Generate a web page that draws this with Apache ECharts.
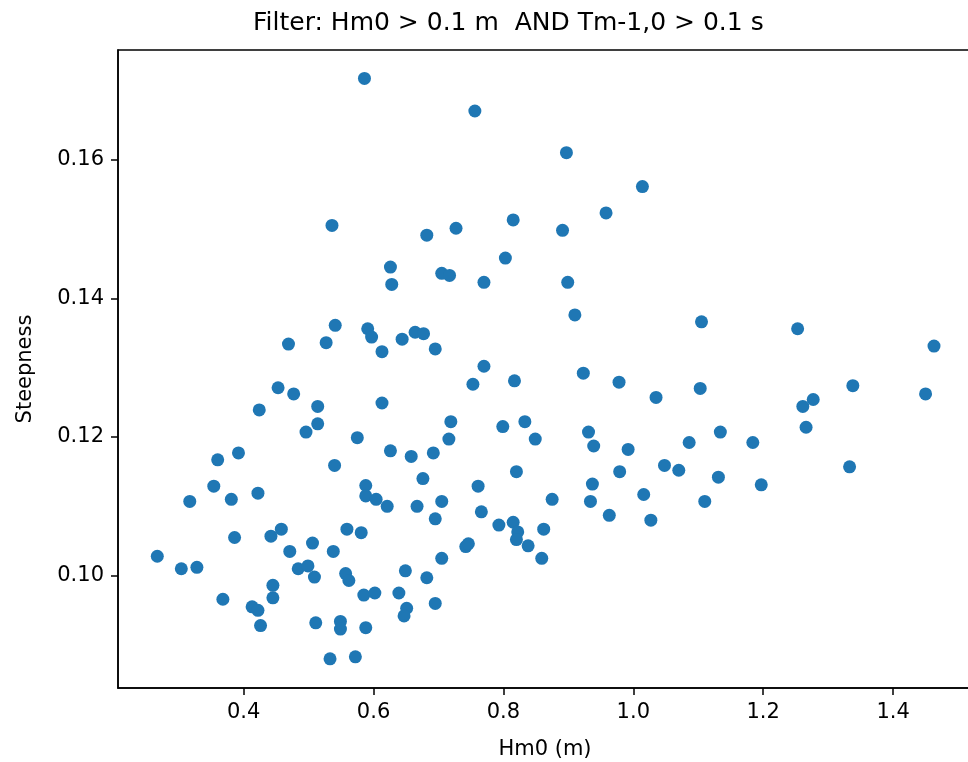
<!DOCTYPE html>
<html>
<head>
<meta charset="utf-8">
<script src="https://cdn.jsdelivr.net/npm/echarts@6/dist/echarts.min.js"></script>
<style>
html,body{margin:0;padding:0;background:#fff;overflow:hidden;}
#chart{width:968px;height:762px;}
</style>
</head>
<body>
<div id="chart"></div>
<script>
// Data
const hm0 = [
  0.586,0.536,0.626,0.628,0.541,0.591,0.597,0.469,0.527,0.613,0.644,0.664,
  0.756,0.897,1.014,0.958,0.815,0.891,0.727,0.682,0.803,0.705,0.717,0.770,
  0.899,0.910,1.105,0.677,0.695,0.770,0.923,1.253,1.463,0.453,0.477,0.514,
  0.424,0.514,0.496,0.613,0.575,0.626,0.658,0.676,0.392,0.360,0.540,0.354,
  0.317,0.381,0.422,0.588,0.588,0.604,0.621,0.667,0.267,0.304,0.328,0.386,
  0.442,0.458,0.506,0.471,0.538,0.559,0.581,0.484,0.499,0.509,0.557,0.562,
  0.649,0.445,0.445,0.368,0.413,0.422,0.426,0.585,0.602,0.639,0.651,0.647,
  0.511,0.549,0.549,0.588,0.533,0.572,0.753,0.817,0.978,1.035,1.103,1.134,
  0.719,0.716,0.692,0.799,0.833,0.849,0.931,0.939,0.992,1.086,0.761,0.820,
  0.705,0.695,0.766,0.793,0.815,0.822,0.820,0.838,0.862,0.859,0.875,0.742,
  0.746,0.705,0.682,0.695,0.937,0.934,0.963,0.979,1.016,1.027,1.048,1.070,
  1.110,1.131,1.338,1.450,1.277,1.261,1.266,1.184,1.333,1.197
];
const steepness = [
  0.1717,0.1505,0.1445,0.1420,0.1361,0.1356,0.1344,0.1334,0.1336,0.1323,0.1341,0.1351,
  0.1670,0.1610,0.1561,0.1523,0.1513,0.1498,0.1501,0.1491,0.1458,0.1436,0.1433,0.1423,
  0.1423,0.1376,0.1366,0.1349,0.1327,0.1302,0.1292,0.1356,0.1331,0.1271,0.1262,0.1244,
  0.1239,0.1219,0.1207,0.1249,0.1199,0.1180,0.1172,0.1140,0.1177,0.1167,0.1159,0.1129,
  0.1107,0.1110,0.1119,0.1130,0.1115,0.1110,0.1100,0.1100,0.1028,0.1010,0.1012,0.1055,
  0.1057,0.1067,0.1047,0.1035,0.1035,0.1067,0.1062,0.1010,0.1014,0.0998,0.1003,0.0993,
  0.1007,0.0986,0.0968,0.0966,0.0955,0.0950,0.0928,0.0972,0.0975,0.0975,0.0953,0.0942,
  0.0932,0.0934,0.0923,0.0925,0.0880,0.0883,0.1276,0.1281,0.1279,0.1257,0.1270,0.1207,
  0.1222,0.1197,0.1177,0.1215,0.1222,0.1197,0.1207,0.1187,0.1182,0.1192,0.1129,0.1150,
  0.1107,0.1082,0.1092,0.1073,0.1077,0.1063,0.1052,0.1043,0.1067,0.1025,0.1110,0.1042,
  0.1046,0.1025,0.0997,0.0960,0.1132,0.1107,0.1087,0.1150,0.1117,0.1080,0.1159,0.1152,
  0.1107,0.1142,0.1274,0.1262,0.1254,0.1244,0.1214,0.1192,0.1157,0.1131
];
const xTicks = [0.4, 0.6, 0.8, 1.0, 1.2, 1.4];
const yTicks = [0.10, 0.12, 0.14, 0.16];
const titleText = 'Filter: Hm0 > 0.1 m  AND Tm-1,0 > 0.1 s';
const xName = 'Hm0 (m)';
const yName = 'Steepness';

const points = hm0.map((v, i) => [v, steepness[i]]);
const FONT = 'DejaVu Sans';

const chart = echarts.init(document.getElementById('chart'), null, {renderer: 'canvas'});
chart.setOption({
  backgroundColor: '#ffffff',
  animation: false,
  title: {
    text: titleText,
    left: 253,
    top: 11,
    padding: 0,
    textStyle: {fontFamily: FONT, fontSize: 25, fontWeight: 'normal', color: '#000'}
  },
  grid: {
    left: 118, top: 50, width: 854, height: 638,
    containLabel: false,
    outerBoundsMode: 'none',
    show: true, borderColor: '#000', borderWidth: 1.5, backgroundColor: 'transparent'
  },
  xAxis: {
    type: 'value',
    min: 0.2065, max: 1.5215,
    name: xName,
    nameLocation: 'middle',
    nameGap: 51,
    nameTextStyle: {fontFamily: FONT, fontSize: 21, color: '#000'},
    splitLine: {show: false},
    axisLine: {show: true, onZero: false, lineStyle: {color: '#000', width: 1.5}},
    axisTick: {show: true, length: 7, customValues: xTicks, lineStyle: {color: '#000', width: 1.5}},
    axisLabel: {
      customValues: xTicks,
      formatter: v => Number(v).toFixed(1),
      fontFamily: FONT, fontSize: 21, color: '#000', margin: 14
    }
  },
  yAxis: {
    type: 'value',
    min: 0.0838, max: 0.1758,
    name: yName,
    nameLocation: 'middle',
    nameGap: 82,
    nameTextStyle: {fontFamily: FONT, fontSize: 21, color: '#000'},
    splitLine: {show: false},
    axisLine: {show: true, onZero: false, lineStyle: {color: '#000', width: 1.5}},
    axisTick: {show: true, length: 7, customValues: yTicks, lineStyle: {color: '#000', width: 1.5}},
    axisLabel: {
      customValues: yTicks,
      formatter: v => Number(v).toFixed(2),
      fontFamily: FONT, fontSize: 21, color: '#000', margin: 14
    }
  },
  series: [{
    type: 'scatter',
    data: points,
    symbol: 'circle',
    symbolSize: 13,
    itemStyle: {color: '#1f77b4', opacity: 1}
  }]
});
</script>
</body>
</html>
